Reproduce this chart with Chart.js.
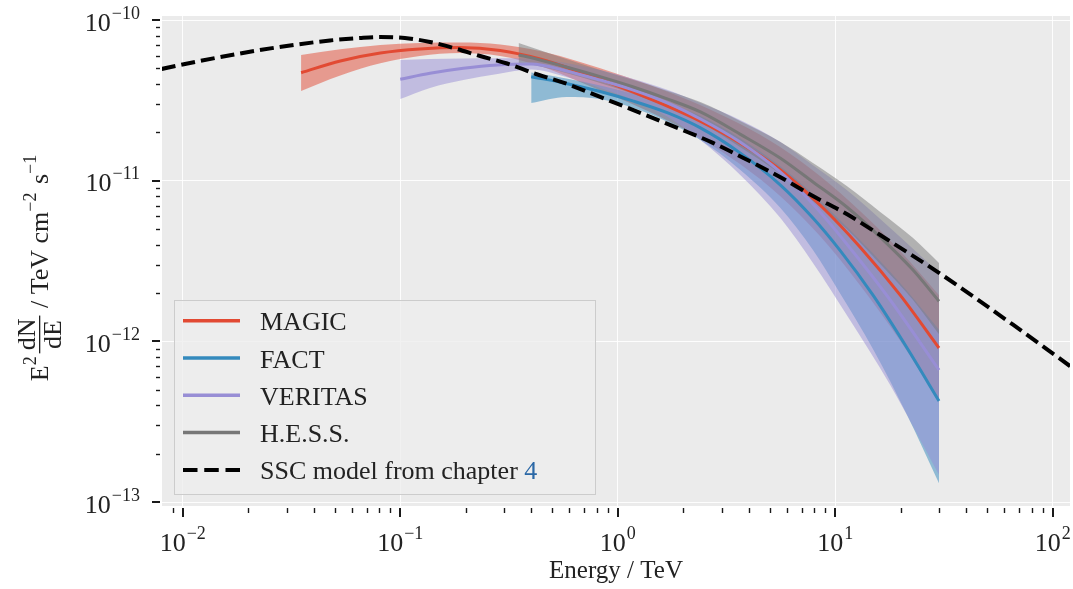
<!DOCTYPE html>
<html>
<head>
<meta charset="utf-8">
<title>Spectral energy distribution</title>
<script src="https://cdn.jsdelivr.net/npm/chart.js@4.4.1/dist/chart.umd.min.js"></script>
<style>
  html, body { margin: 0; padding: 0; background: #ffffff; }
  canvas { display: block; }
</style>
</head>
<body>
<canvas id="sed" width="1073" height="589"></canvas>
<script>
// Energies in TeV, fluxes as E^2 dN/dE in TeV cm^-2 s^-1.

// MAGIC fit with its uncertainty band
const magicEnergy = [0.035, 0.053, 0.081, 0.123, 0.188, 0.288, 0.439, 0.671, 1.03, 1.57, 2.39, 3.65, 5.58, 8.51, 13.0, 19.9, 30];
const magicFlux   = [4.70e-11, 5.56e-11, 6.23e-11, 6.60e-11, 6.74e-11, 6.46e-11, 5.72e-11, 4.75e-11, 3.83e-11, 3.04e-11, 2.35e-11, 1.72e-11, 1.17e-11, 7.06e-12, 3.87e-12, 1.94e-12, 9.10e-13];
const magicHigh   = [6.06e-11, 6.57e-11, 6.99e-11, 7.19e-11, 7.24e-11, 7.04e-11, 6.41e-11, 5.48e-11, 4.55e-11, 3.72e-11, 2.96e-11, 2.25e-11, 1.62e-11, 1.07e-11, 6.48e-12, 3.65e-12, 1.94e-12];
const magicLow    = [3.62e-11, 4.52e-11, 5.38e-11, 5.97e-11, 6.23e-11, 5.97e-11, 5.17e-11, 4.11e-11, 3.22e-11, 2.49e-11, 1.84e-11, 1.27e-11, 8.03e-12, 4.53e-12, 2.24e-12, 1.01e-12, 4.20e-13];

// FACT
const factEnergy = [0.40, 0.58, 0.83, 1.18, 1.7, 2.4, 3.65, 5.6, 7.9, 10.5, 15, 21.4, 30];
const factFlux   = [4.44e-11, 4.03e-11, 3.59e-11, 3.13e-11, 2.64e-11, 2.13e-11, 1.49e-11, 9.40e-12, 5.86e-12, 3.70e-12, 1.92e-12, 9.10e-13, 4.26e-13];
const factHigh   = [4.71e-11, 4.33e-11, 3.91e-11, 3.46e-11, 3.00e-11, 2.53e-11, 1.84e-11, 1.23e-11, 8.27e-12, 5.70e-12, 3.50e-12, 2.06e-12, 1.18e-12];
const factLow    = [3.04e-11, 3.32e-11, 3.22e-11, 2.83e-11, 2.32e-11, 1.79e-11, 1.17e-11, 6.76e-12, 3.70e-12, 2.00e-12, 8.84e-13, 3.48e-13, 1.31e-13];

// VERITAS
const veritasEnergy = [0.10, 0.137, 0.195, 0.28, 0.40, 0.58, 0.83, 1.18, 1.7, 2.4, 3.65, 5.6, 7.9, 11.3, 17.9, 30];
const veritasFlux   = [4.28e-11, 4.66e-11, 5.01e-11, 5.25e-11, 5.32e-11, 4.82e-11, 4.23e-11, 3.67e-11, 3.04e-11, 2.42e-11, 1.74e-11, 1.13e-11, 7.16e-12, 4.04e-12, 1.81e-12, 6.64e-13];
const veritasHigh   = [5.64e-11, 5.72e-11, 5.76e-11, 5.78e-11, 5.76e-11, 5.40e-11, 4.89e-11, 4.29e-11, 3.67e-11, 3.04e-11, 2.39e-11, 1.74e-11, 1.25e-11, 8.75e-12, 5.08e-12, 2.67e-12];
const veritasLow    = [3.22e-11, 3.78e-11, 4.23e-11, 4.61e-11, 4.92e-11, 4.42e-11, 3.78e-11, 3.18e-11, 2.49e-11, 1.79e-11, 1.09e-11, 5.86e-12, 3.08e-12, 1.46e-12, 5.36e-13, 1.48e-13];

// H.E.S.S.
const hessEnergy = [0.35, 0.41, 0.58, 0.83, 1.18, 1.7, 2.4, 3.65, 5.6, 7.9, 11.3, 16.1, 22.8, 30];
const hessFlux   = [6.06e-11, 5.78e-11, 5.10e-11, 4.44e-11, 3.83e-11, 3.22e-11, 2.68e-11, 1.95e-11, 1.38e-11, 9.82e-12, 6.86e-12, 4.46e-12, 2.78e-12, 1.78e-12];
const hessHigh   = [7.19e-11, 6.70e-11, 5.72e-11, 4.89e-11, 4.23e-11, 3.62e-11, 3.09e-11, 2.35e-11, 1.74e-11, 1.29e-11, 9.27e-12, 6.39e-12, 4.40e-12, 3.08e-12];
const hessLow    = [5.40e-11, 5.25e-11, 4.68e-11, 4.05e-11, 3.46e-11, 2.87e-11, 2.32e-11, 1.62e-11, 1.10e-11, 7.48e-12, 5.00e-12, 3.03e-12, 1.81e-12, 1.11e-12];

// SSC model curve
const sscEnergy = [0.0075, 0.008, 0.012, 0.0183, 0.0289, 0.0475, 0.0653, 0.0808, 0.105, 0.137, 0.179, 0.233, 0.31, 0.408, 0.585, 0.83, 1.18, 1.93, 2.74, 3.93, 5.6, 7.9, 11.3, 16.1, 30, 65.7, 120, 140];
const sscFlux   = [4.86e-11, 4.96e-11, 5.56e-11, 6.19e-11, 6.84e-11, 7.46e-11, 7.73e-11, 7.84e-11, 7.73e-11, 7.30e-11, 6.65e-11, 5.97e-11, 5.36e-11, 4.68e-11, 4.00e-11, 3.32e-11, 2.75e-11, 2.10e-11, 1.72e-11, 1.35e-11, 1.05e-11, 8.03e-12, 6.20e-12, 4.59e-12, 2.67e-12, 1.27e-12, 7.03e-13, 6.05e-13];

// Axis ranges and labelled decades
const X_MIN = 0.008025, X_MAX = 120.1;
const Y_MIN = 9.46e-14, Y_MAX = 1.059e-10;
const xMajorTicks = [0.01, 0.1, 1, 10, 100];
const xTickExponents = ['\u22122', '\u22121', '0', '1', '2'];
const yMajorTicks = [1e-13, 1e-12, 1e-11, 1e-10];
const yTickExponents = ['\u221213', '\u221212', '\u221211', '\u221210'];

const legendLabels = ['MAGIC', 'FACT', 'VERITAS', 'H.E.S.S.', 'SSC model from chapter '];
const legendRef = '4';

const COLORS = { magic: '#E24A33', fact: '#348ABD', veritas: '#988ED5', hess: '#777777', ssc: '#000000' };

function pts(xs, ys) { return xs.map((x, i) => ({ x: x, y: ys[i] })); }
function rgba(hex, a) {
  const n = parseInt(hex.slice(1), 16);
  return 'rgba(' + ((n >> 16) & 255) + ',' + ((n >> 8) & 255) + ',' + (n & 255) + ',' + a + ')';
}

const instruments = [
  { label: legendLabels[0], color: COLORS.magic,   e: magicEnergy,   f: magicFlux,   hi: magicHigh,   lo: magicLow },
  { label: legendLabels[1], color: COLORS.fact,    e: factEnergy,    f: factFlux,    hi: factHigh,    lo: factLow },
  { label: legendLabels[2], color: COLORS.veritas, e: veritasEnergy, f: veritasFlux, hi: veritasHigh, lo: veritasLow },
  { label: legendLabels[3], color: COLORS.hess,    e: hessEnergy,    f: hessFlux,    hi: hessHigh,    lo: hessLow }
];

// Bands first (upper edge filled down to lower edge), then the fitted lines, then the model.
const datasets = [];
instruments.forEach(inst => {
  const base = datasets.length;
  datasets.push({ label: inst.label + ' upper', data: pts(inst.e, inst.hi), borderWidth: 0,
                  backgroundColor: rgba(inst.color, 0.5), fill: base + 1 });
  datasets.push({ label: inst.label + ' lower', data: pts(inst.e, inst.lo), borderWidth: 0, fill: false });
});
instruments.forEach(inst => {
  datasets.push({ label: inst.label, data: pts(inst.e, inst.f), borderColor: inst.color, borderWidth: 3,
                  fill: false, legend: true });
});
datasets.push({ label: legendLabels[4] + legendRef, data: pts(sscEnergy, sscFlux), borderColor: COLORS.ssc,
                borderWidth: 4, borderDash: [14, 6], fill: false, legend: true });
// lower index is painted earlier
datasets.forEach((d, i) => { d.order = 100 - i; d.pointRadius = 0; });

function minorTicks(lo, hi) {
  const out = [];
  for (let e = Math.floor(Math.log10(lo)); e <= Math.ceil(Math.log10(hi)); e++) {
    for (let m = 2; m <= 9; m++) {
      const v = m * Math.pow(10, e);
      if (v >= lo && v <= hi) out.push(v);
    }
  }
  return out;
}

const SERIF = '"Liberation Serif", "DejaVu Serif", serif';
const TEXT = '#222222';

function powerLabel(ctx, exp, xLeft, baseline, big, small) {
  ctx.font = big + 'px ' + SERIF;
  ctx.fillText('10', xLeft, baseline);
  const w = ctx.measureText('10').width;
  ctx.font = small + 'px ' + SERIF;
  ctx.fillText(exp, xLeft + w + 1, baseline - 12);
}
function powerWidth(ctx, exp, big, small) {
  ctx.font = big + 'px ' + SERIF;
  const w1 = ctx.measureText('10').width;
  ctx.font = small + 'px ' + SERIF;
  return w1 + 1 + ctx.measureText(exp).width;
}

const decor = {
  id: 'decor',
  beforeDraw(chart) {
    const { ctx, chartArea: a } = chart;
    ctx.save();
    ctx.fillStyle = '#EBEBEB';
    ctx.fillRect(a.left, a.top, a.right - a.left, a.bottom - a.top);
    ctx.restore();
  },
  afterDraw(chart) {
    const { ctx, chartArea: a } = chart;
    const xs = chart.scales.x, ys = chart.scales.y;
    ctx.save();

    // tick marks outside the axes
    ctx.strokeStyle = '#1a1a1a';
    const tick = (x1, y1, x2, y2, w) => { ctx.lineWidth = w; ctx.beginPath(); ctx.moveTo(x1, y1); ctx.lineTo(x2, y2); ctx.stroke(); };
    xMajorTicks.forEach(v => { const p = Math.round(xs.getPixelForValue(v)); tick(p, a.bottom + 2, p, a.bottom + 11, 2); });
    minorTicks(X_MIN, X_MAX).forEach(v => { const p = Math.round(xs.getPixelForValue(v)) + 0.5; tick(p, a.bottom + 2, p, a.bottom + 7, 1.4); });
    yMajorTicks.forEach(v => { const p = Math.round(ys.getPixelForValue(v)); tick(a.left - 10, p, a.left - 2, p, 2); });
    minorTicks(Y_MIN, Y_MAX).forEach(v => { const p = Math.round(ys.getPixelForValue(v)) + 0.5; tick(a.left - 6, p, a.left - 2, p, 1.4); });

    // decade labels
    ctx.fillStyle = TEXT;
    ctx.textBaseline = 'alphabetic';
    ctx.textAlign = 'left';
    xMajorTicks.forEach((v, i) => {
      const p = xs.getPixelForValue(v);
      const w = powerWidth(ctx, xTickExponents[i], 26, 18);
      powerLabel(ctx, xTickExponents[i], p - w / 2, a.bottom + 45, 26, 18);
    });
    yMajorTicks.forEach((v, i) => {
      const p = ys.getPixelForValue(v);
      const w = powerWidth(ctx, yTickExponents[i], 26, 18);
      powerLabel(ctx, yTickExponents[i], a.left - 22 - w, p + 10.5, 26, 18);
    });

    // x axis title
    ctx.font = '25px ' + SERIF;
    ctx.textAlign = 'center';
    ctx.fillText('Energy / TeV', (a.left + a.right) / 2, 578);

    // y axis title: E^2 dN/dE / TeV cm^-2 s^-1, rotated
    ctx.save();
    ctx.translate(48, (a.top + a.bottom) / 2 + 6);
    ctx.rotate(-Math.PI / 2);
    ctx.textAlign = 'left';
    const big = '26px ' + SERIF, small = '18px ' + SERIF;
    const parts = [];
    parts.push({ t: 'E', f: big, dy: 0 });
    parts.push({ t: '2', f: small, dy: -12 });
    parts.push({ frac: ['dN', 'dE'] });
    parts.push({ t: ' / TeV cm', f: big, dy: 0 });
    parts.push({ t: '\u22122', f: small, dy: -12 });
    parts.push({ t: ' s', f: big, dy: 0 });
    parts.push({ t: '\u22121', f: small, dy: -12 });
    let total = 0;
    parts.forEach(pt => {
      if (pt.frac) {
        ctx.font = big;
        pt.w = Math.max(ctx.measureText(pt.frac[0]).width, ctx.measureText(pt.frac[1]).width) + 8;
      } else {
        ctx.font = pt.f;
        pt.w = ctx.measureText(pt.t).width + (pt.f === small ? 2 : 0);
      }
      total += pt.w;
    });
    let cx = -total / 2;
    parts.forEach(pt => {
      if (pt.frac) {
        ctx.font = big;
        const wn = ctx.measureText(pt.frac[0]).width, wd = ctx.measureText(pt.frac[1]).width;
        ctx.fillText(pt.frac[0], cx + (pt.w - wn) / 2, -13);
        ctx.fillText(pt.frac[1], cx + (pt.w - wd) / 2, 13);
        ctx.fillRect(cx + 1, -9, pt.w - 2, 1.3);
      } else {
        ctx.font = pt.f;
        ctx.fillText(pt.t, cx, pt.dy);
      }
      cx += pt.w;
    });
    ctx.restore();

    // legend
    const lx = 174, ly = 300, lw = 421, lh = 194;
    ctx.fillStyle = 'rgba(237,237,237,0.8)';
    ctx.fillRect(lx, ly, lw, lh);
    ctx.strokeStyle = '#CCCCCC';
    ctx.lineWidth = 1;
    ctx.strokeRect(lx + 0.5, ly + 0.5, lw, lh);
    const items = chart.data.datasets.filter(d => d.legend);
    items.forEach((d, i) => {
      const y = 320.7 + i * 37.3;
      ctx.strokeStyle = d.borderColor;
      ctx.lineWidth = d.borderDash ? 4 : 3.5;
      ctx.setLineDash(d.borderDash ? [14.5, 6.75] : []);
      ctx.beginPath(); ctx.moveTo(183, y); ctx.lineTo(240, y); ctx.stroke();
      ctx.setLineDash([]);
      ctx.font = '26px ' + SERIF;
      ctx.textAlign = 'left';
      ctx.fillStyle = TEXT;
      const name = legendLabels[i];
      ctx.fillText(name, 260, y + 9.5);
      if (i === legendLabels.length - 1) {
        const w = ctx.measureText(name).width;
        ctx.fillStyle = '#2B68A6';
        ctx.fillText(legendRef, 260 + w, y + 9.5);
      }
    });
    ctx.restore();
  }
};

new Chart(document.getElementById('sed'), {
  type: 'line',
  data: { datasets: datasets },
  options: {
    responsive: false,
    animation: false,
    devicePixelRatio: 1,
    layout: { padding: { top: 16, right: 3, left: 0, bottom: 0 } },
    elements: {
      point: { radius: 0 },
      line: { cubicInterpolationMode: 'monotone', borderCapStyle: 'butt' }
    },
    plugins: { legend: { display: false }, tooltip: { enabled: false } },
    scales: {
      x: {
        type: 'logarithmic', min: X_MIN, max: X_MAX,
        border: { display: false },
        ticks: { display: false },
        grid: { color: 'rgba(255,255,255,0.9)', lineWidth: 1, drawTicks: false },
        afterBuildTicks: s => { s.ticks = xMajorTicks.map(v => ({ value: v })); },
        afterFit: s => { s.height = 83; }
      },
      y: {
        type: 'logarithmic', min: Y_MIN, max: Y_MAX,
        border: { display: false },
        ticks: { display: false },
        grid: { color: 'rgba(255,255,255,0.9)', lineWidth: 1, drawTicks: false },
        afterBuildTicks: s => { s.ticks = yMajorTicks.map(v => ({ value: v })); },
        afterFit: s => { s.width = 162; }
      }
    }
  },
  plugins: [decor]
});
</script>
</body>
</html>
